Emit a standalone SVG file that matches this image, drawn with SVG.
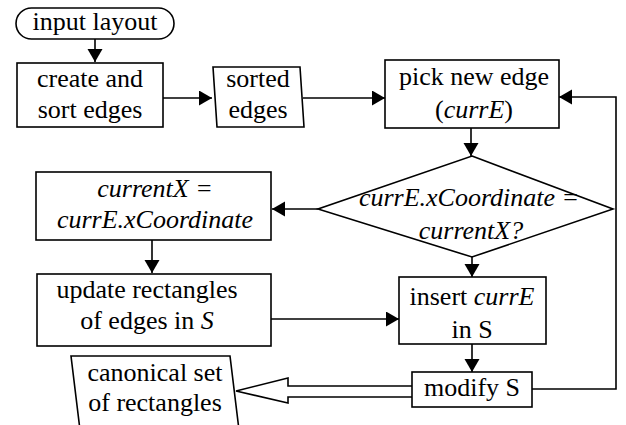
<svg xmlns="http://www.w3.org/2000/svg" width="626" height="425" viewBox="0 0 626 425" font-family="Liberation Serif">
<style>
.s{fill:#fff;stroke:#000;stroke-width:1.6}
.t{font-family:'Liberation Serif','Times New Roman',serif;font-size:26px;fill:#000;text-anchor:middle}
.i{font-style:italic}
.c{fill:none;stroke:#000;stroke-width:1.6}
</style>
<defs>
<marker id="a" markerUnits="userSpaceOnUse" markerWidth="14" markerHeight="16" refX="13" refY="7.5" orient="auto" viewBox="0 0 14 16"><path d="M0,0 L13,7.5 L0,15 z" fill="#000"/></marker>
</defs>
<rect width="626" height="425" fill="#fff"/>
<g id="connectors">
<path class="c" d="M95,39 V62" marker-end="url(#a)"/>
<path class="c" d="M163,98 H212" marker-end="url(#a)"/>
<path class="c" d="M303,98 H385" marker-end="url(#a)"/>
<path class="c" d="M471,128 V156" marker-end="url(#a)"/>
<path class="c" d="M318,209 H272" marker-end="url(#a)"/>
<path class="c" d="M152,240 V273" marker-end="url(#a)"/>
<path class="c" d="M472,257 V277" marker-end="url(#a)"/>
<path class="c" d="M271,319 H399" marker-end="url(#a)"/>
<path class="c" d="M472,344 V372" marker-end="url(#a)"/>
<path class="c" d="M532,389 H616 V97 H559" marker-end="url(#a)"/>
<path class="s" d="M412,386 H288 V378 L236,391 L288,403 V397 H412"/>
</g>
<g id="input-layout">
<rect class="s" x="16" y="8" width="158" height="31" rx="15.5"/>
<text class="t" font-family="Liberation Serif" x="95" y="30">input layout</text>
</g>
<g id="create-sort">
<rect class="s" x="17" y="63" width="146" height="64"/>
<text class="t" font-family="Liberation Serif" x="90" y="87">create and</text>
<text class="t" font-family="Liberation Serif" x="90" y="118">sort edges</text>
</g>
<g id="sorted-edges">
<path class="s" d="M213,67 H300 L304,127 H217 Z"/>
<text class="t" font-family="Liberation Serif" x="258" y="87">sorted</text>
<text class="t" font-family="Liberation Serif" x="258" y="118">edges</text>
</g>
<g id="pick-edge">
<rect class="s" x="385" y="60" width="174" height="68"/>
<text class="t" font-family="Liberation Serif" x="474" y="85">pick new edge</text>
<text class="t" font-family="Liberation Serif" x="474" y="118">(<tspan class="i">currE</tspan>)</text>
</g>
<g id="decision">
<path class="s" d="M472,156 L613,209 L472,257 L318,209 Z"/>
<text class="t i" font-family="Liberation Serif" x="469" y="206">currE.xCoordinate =</text>
<text class="t i" font-family="Liberation Serif" x="471" y="239">currentX?</text>
</g>
<g id="set-currentX">
<rect class="s" x="36" y="172" width="235" height="68"/>
<text class="t i" font-family="Liberation Serif" x="155" y="197">currentX =</text>
<text class="t i" font-family="Liberation Serif" x="155" y="228">currE.xCoordinate</text>
</g>
<g id="update-rect">
<rect class="s" x="37" y="274" width="234" height="72"/>
<text class="t" font-family="Liberation Serif" x="147" y="298">update rectangles</text>
<text class="t" font-family="Liberation Serif" x="147" y="329">of edges in <tspan class="i">S</tspan></text>
</g>
<g id="insert">
<rect class="s" x="399" y="277" width="147" height="67"/>
<text class="t" font-family="Liberation Serif" x="472" y="305">insert <tspan class="i">currE</tspan></text>
<text class="t" font-family="Liberation Serif" x="472" y="338">in S</text>
</g>
<g id="modify">
<rect class="s" x="412" y="372" width="120" height="35"/>
<text class="t" font-family="Liberation Serif" x="472" y="396">modify S</text>
</g>
<g id="canonical">
<path class="s" d="M80,430 L71,356 H230 L239,430"/>
<text class="t" font-family="Liberation Serif" x="155" y="381">canonical set</text>
<text class="t" font-family="Liberation Serif" x="155" y="411">of rectangles</text>
</g>
</svg>
